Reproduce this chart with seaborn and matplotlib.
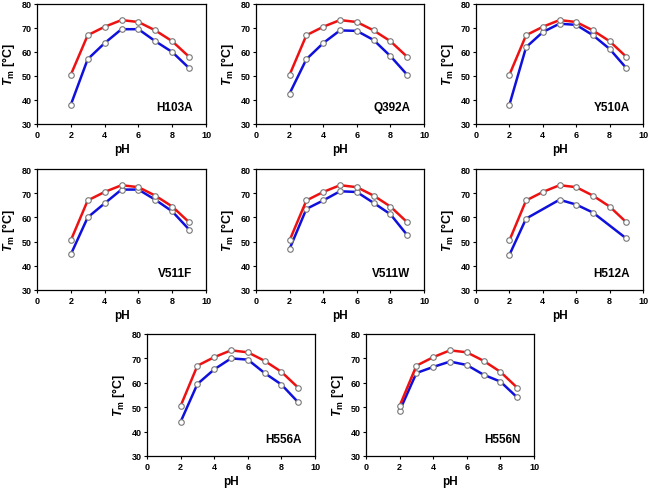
import numpy as np
import matplotlib
matplotlib.use("Agg")
import matplotlib.pyplot as plt
import seaborn as sns

sns.set_style("ticks")
plt.rcParams['font.family'] = ['Liberation Sans', 'DejaVu Sans']
plt.rcParams['font.weight'] = 'bold'
plt.rcParams['text.color'] = 'black'
plt.rcParams['axes.labelcolor'] = 'black'
plt.rcParams['xtick.color'] = 'black'
plt.rcParams['ytick.color'] = 'black'
plt.rcParams['mathtext.fontset'] = 'custom'
plt.rcParams['mathtext.rm'] = 'Liberation Sans:bold'
plt.rcParams['mathtext.it'] = 'Liberation Sans:bold:italic'
plt.rcParams['mathtext.bf'] = 'Liberation Sans:bold'

ph = [2, 3, 4, 5, 6, 7, 8, 9]
wild_type = [50.5, 67.0, 70.5, 73.3, 72.5, 69.0, 64.5, 58.0]

mutants = ["H103A", "Q392A", "Y510A", "V511F", "V511W", "H512A", "H556A", "H556N"]
mutant_ph = {
    "H103A": ph, "Q392A": ph, "Y510A": ph, "V511F": ph, "V511W": ph,
    "H512A": [2, 3, 5, 6, 7, 9],
    "H556A": ph, "H556N": ph,
}
mutant_tm = {
    "H103A": [38.0, 57.0, 63.7, 69.5, 69.5, 64.5, 60.0, 53.3],
    "Q392A": [42.7, 57.0, 63.7, 69.0, 68.8, 65.0, 58.3, 50.5],
    "Y510A": [38.0, 62.0, 68.3, 71.8, 71.3, 67.0, 61.3, 53.3],
    "V511F": [44.7, 60.0, 65.8, 71.5, 71.5, 67.3, 62.5, 55.0],
    "V511W": [47.0, 63.5, 67.0, 70.8, 70.5, 66.0, 61.3, 52.7],
    "H512A": [44.5, 59.5, 67.3, 65.3, 62.0, 51.3],
    "H556A": [44.0, 59.5, 65.5, 70.0, 69.5, 64.0, 59.3, 52.0],
    "H556N": [48.5, 64.0, 66.5, 68.7, 67.3, 63.3, 60.5, 54.0],
}

# axes boxes in pixels: left, right, top, bottom
W, H = 649, 489
boxes = [
    (37, 206, 5, 125), (256, 424, 5, 125), (476, 643, 5, 125),
    (37, 206, 170, 291), (256, 424, 170, 291), (476, 643, 170, 291),
    (147, 315, 335, 457), (366, 534, 335, 457),
]

fig = plt.figure(figsize=(W / 100, H / 100), dpi=100)

mk = dict(marker='o', markersize=4, markerfacecolor='white',
          markeredgecolor='#777777', markeredgewidth=0.8)

for name, (l, r, t, b) in zip(mutants, boxes):
    ax = fig.add_axes([l / W, 1 - b / H, (r - l) / W, (b - t) / H])
    sns.lineplot(x=mutant_ph[name], y=mutant_tm[name], ax=ax, color='#1010dd',
                 linewidth=1.8, **mk)
    sns.lineplot(x=ph, y=wild_type, ax=ax, color='#ee1111', linewidth=1.8, **mk)
    ax.set_xlim(0, 10)
    ax.set_ylim(30, 80)
    ax.set_xticks([0, 2, 4, 6, 8, 10])
    ax.set_yticks([30, 40, 50, 60, 70, 80])
    ax.tick_params(labelsize=6.5, length=2.5, width=0.8, pad=1.5)
    for lab in ax.get_xticklabels() + ax.get_yticklabels():
        lab.set_fontweight('bold')
    for s in ax.spines.values():
        s.set_linewidth(0.9)
        s.set_color('black')
    ax.set_xlabel('pH', fontsize=8.5, fontweight='bold', labelpad=3)
    ax.set_ylabel(r'$\mathit{T}_\mathrm{m}$ [°C]', fontsize=9, fontweight='bold', labelpad=3)
    ax.text(9.2, 37, name, ha='right', va='center', fontsize=8.5, fontweight='bold')

fig.savefig("out.png", dpi=100)
